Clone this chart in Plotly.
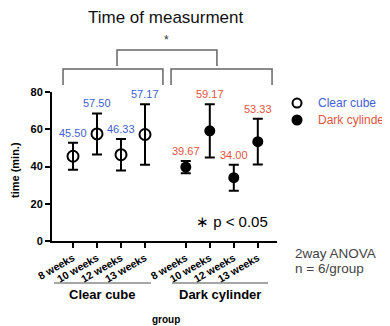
import plotly.graph_objects as go

groups = ["Clear cube", "Dark cylinder"]
weeks = ["8 weeks", "10 weeks", "12 weeks", "13 weeks"]
clear_mean = [45.50, 57.50, 46.33, 57.17]
clear_err = [7.2, 11.0, 8.5, 16.2]
dark_mean = [39.67, 59.17, 34.00, 53.33]
dark_err = [3.3, 14.3, 7.0, 12.3]
yticks = [0, 20, 40, 60, 80]

BLUE = "#3f5fd2"
RED = "#e2533f"
GAP = 0.7
FONT = "Liberation Sans, Arial, sans-serif"

def xpos(g):
    return [i + g * (len(weeks) + GAP) for i in range(len(weeks))]

x_clear = xpos(0)
x_dark = xpos(1)

fig = go.Figure()
fig.add_trace(go.Scatter(
    x=x_clear, y=clear_mean, mode="markers", name=groups[0],
    marker=dict(symbol="circle-open", size=11, color="black", line=dict(width=2)),
    error_y=dict(type="data", array=clear_err, color="black", thickness=2, width=5),
))
fig.add_trace(go.Scatter(
    x=x_dark, y=dark_mean, mode="markers", name=groups[1],
    marker=dict(symbol="circle", size=11, color="black"),
    error_y=dict(type="data", array=dark_err, color="black", thickness=2, width=5),
))

ann = []
for xs, ms, es, col in [(x_clear, clear_mean, clear_err, BLUE), (x_dark, dark_mean, dark_err, RED)]:
    for x, m, e in zip(xs, ms, es):
        ann.append(dict(x=x, y=m + e, xref="x", yref="y", text=f"{m:.2f}", showarrow=False,
                        xanchor="center", yanchor="bottom", yshift=2,
                        font=dict(size=11, color=col, family=FONT)))

def pa(text, x, y, size, color="black", bold=False, xanchor="center", **kw):
    ann.append(dict(x=x, y=y, xref="paper", yref="paper", text=text, showarrow=False,
                    xanchor=xanchor, yanchor="middle",
                    font=dict(size=size, color=color, family=FONT, weight="bold" if bold else "normal"), **kw))

pa("Time of measurment", 0.507, 1.497, 17, color="#111")
pa("*", 0.511, 1.35, 12, color="#333")
pa("time (min.)", -0.164, 0.477, 11, bold=True, textangle=-90)
pa("∗ p &lt; 0.05", 0.80, 0.128, 15)
pa("2way ANOVA", 1.07, -0.085, 13.5, color="#444", xanchor="left")
pa("n = 6/group", 1.07, -0.185, 13.5, color="#444", xanchor="left")
pa(groups[0], 0.222, -0.362, 13, bold=True)
pa(groups[1], 0.747, -0.362, 13, bold=True)
pa("group", 0.507, -0.53, 10, bold=True)
# legend (drawn manually)
pa(groups[0], 1.173, 0.926, 12, color=BLUE, xanchor="left")
pa(groups[1], 1.173, 0.812, 12, color=RED, xanchor="left")

shapes = []
def bracket(x0, x1, ytop, ybot):
    shapes.append(dict(type="path", xref="paper", yref="paper",
                       path=f"M {x0},{ybot} L {x0},{ytop} L {x1},{ytop} L {x1},{ybot}",
                       line=dict(color="#666", width=1.5)))
bracket(0.049, 0.493, 1.154, 1.047)
bracket(0.529, 0.978, 1.154, 1.047)
bracket(0.289, 0.733, 1.282, 1.174)
for x0, x1 in [(0.009, 0.440), (0.533, 0.960)]:
    shapes.append(dict(type="line", xref="paper", yref="paper", x0=x0, x1=x1, y0=-0.282, y1=-0.282,
                       line=dict(color="#888", width=1.5)))
# legend symbols
r_x, r_y = 4.5 / 225, 4.5 / 149
for cy, filled in [(0.926, False), (0.812, True)]:
    cx = 1.089
    shapes.append(dict(type="circle", xref="paper", yref="paper",
                       x0=cx - r_x, x1=cx + r_x, y0=cy - r_y, y1=cy + r_y,
                       line=dict(color="black", width=2),
                       fillcolor="black" if filled else "white"))

# page body has an 8px margin: size the figure so it fits the 390x326 window
fig.update_layout(
    width=382, height=318,
    margin=dict(l=44, r=113, t=84, b=85),
    plot_bgcolor="white", paper_bgcolor="white",
    font=dict(family=FONT, color="black"),
    showlegend=False,
    annotations=ann, shapes=shapes,
    xaxis=dict(range=[-0.875, 8.5], tickvals=x_clear + x_dark, ticktext=weeks + weeks,
               tickangle=-30, showline=True, linecolor="black", linewidth=2, automargin=False,
               ticks="outside", ticklen=5, tickwidth=2, tickcolor="black", showgrid=False, zeroline=False,
               tickfont=dict(size=10.5, family=FONT, weight="bold")),
    yaxis=dict(range=[0, 80], tickvals=yticks, showline=True, linecolor="black", linewidth=2, automargin=False,
               ticks="outside", ticklen=5, tickwidth=2, tickcolor="black", showgrid=False, zeroline=False,
               tickfont=dict(size=11, family=FONT, weight="bold")),
)
fig.write_html("out.html")
